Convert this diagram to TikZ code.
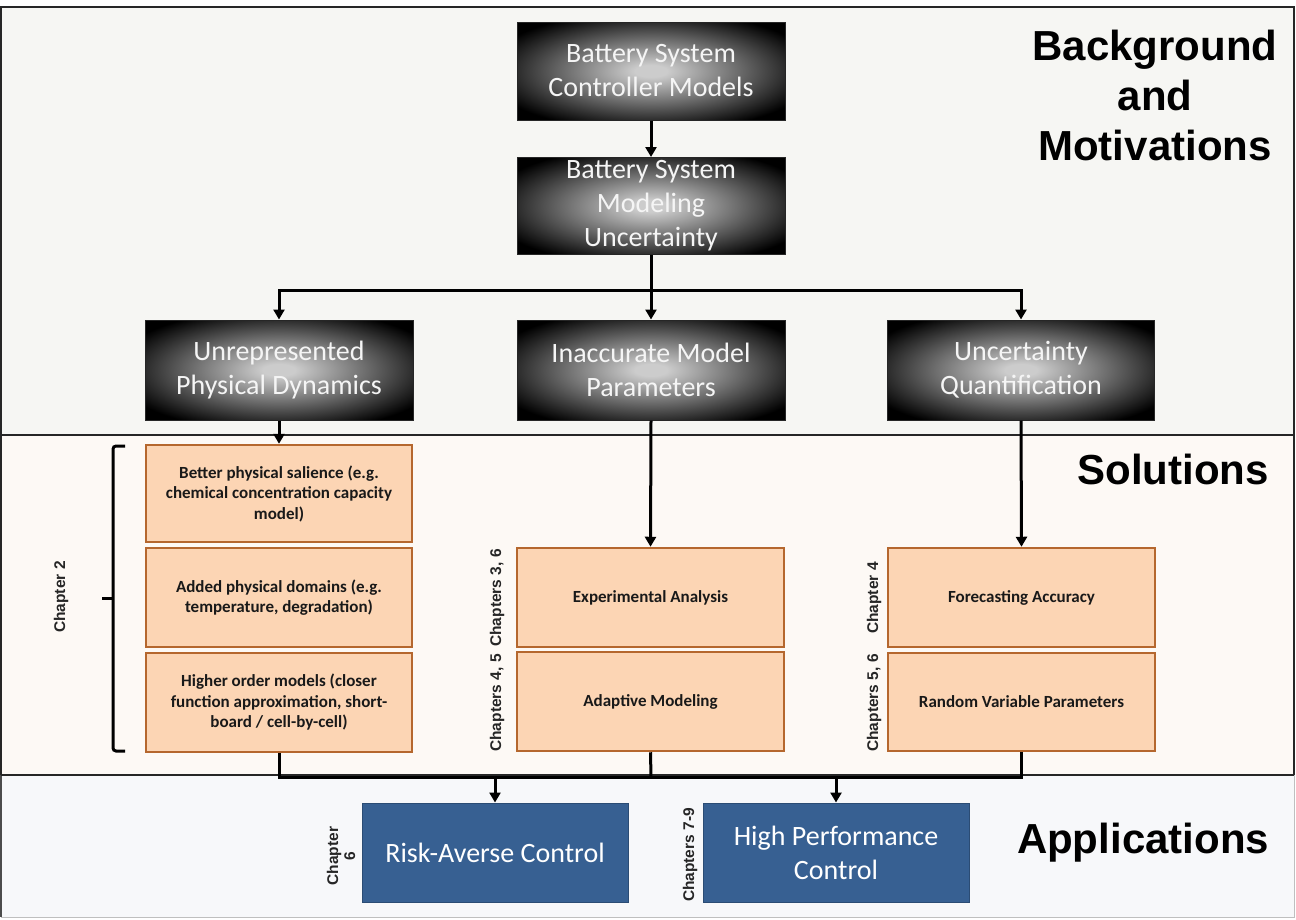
\documentclass[tikz,border=0pt]{standalone}
\usepackage{fontspec}
\setmainfont{Carlito}
\newfontfamily\arialf{Liberation Sans}
\usetikzlibrary{arrows.meta}
\definecolor{shc}{HTML}{CCCCCC}
\definecolor{shm}{HTML}{6E6E6E}
\definecolor{bgtop}{HTML}{F6F6F3}
\definecolor{bgsol}{HTML}{FDF9F5}
\definecolor{bgapp}{HTML}{F7F8FA}
\definecolor{orgfill}{HTML}{FCD5B4}
\definecolor{orgline}{HTML}{B5672E}
\definecolor{blufill}{HTML}{376092}
\definecolor{bluline}{HTML}{2B4C74}
\pgfdeclareradialshading{blkshade}{\pgfpoint{0bp}{0bp}}{color(0bp)=(shc); color(3bp)=(shc); color(16bp)=(shm); color(31bp)=(black); color(50bp)=(black)}
\tikzset{
  blk/.style={draw=black!85, line width=1pt, shading=blkshade, text=white!96!black, minimum width=268pt, minimum height=98pt, inner sep=0pt, align=center, font=\fontsize{28}{34}\selectfont},
  orng/.style={draw=orgline, line width=2.5pt, fill=orgfill, minimum width=266pt, minimum height=99pt, inner sep=0pt, align=center, text=black!90, font=\bfseries\fontsize{17}{20.5}\selectfont},
  blu/.style={draw=bluline, line width=1pt, fill=blufill, text=white, minimum width=266pt, minimum height=99pt, inner sep=0pt, align=center, font=\fontsize{28}{34}\selectfont},
  chap/.style={rotate=90, inner sep=0pt, align=center, text=black!85, font=\arialf\bfseries\fontsize{15.5}{17}\selectfont},
  ttl/.style={inner sep=0pt, align=center, font=\arialf\bfseries\fontsize{42}{50}\selectfont},
  arr/.style={line width=3pt, -{Triangle[width=11pt,length=10pt]}},
  conn/.style={line width=3pt},
  brc/.style={line width=3pt, rounded corners=3pt}
}
\begin{document}
\begin{tikzpicture}[x=1pt,y=-1pt]
\useasboundingbox (0,0) rectangle (1296,919);
% bands
\fill[bgtop] (1,7) rectangle (1294,435);
\fill[bgsol] (1,435) rectangle (1294,775);
\fill[bgapp] (1,775) rectangle (1294,917);
\draw[black!25, line width=1pt] (1,917) -- (1294,917) -- (1294,775);
\draw[black!70, line width=1.5pt] (1,775) -- (1,917);
\draw[black!85, line width=2pt] (1,775) -- (1,7) -- (1294,7) -- (1294,775);
\draw[black!85, line width=2pt] (1,435) -- (1294,435);
\draw[black!85, line width=2pt] (1,775) -- (1294,775);
% titles
\node[ttl] (tbg) at (1155,95) {Background\\and\\Motivations};
\node[ttl, anchor=base] (tsol) at (1173,484) {Solutions};
\node[ttl, anchor=base] (tapp) at (1143,853) {Applications};
% black boxes
\node[blk] (n1) at (651,71) {Battery System\\Controller Models};
\node[blk, minimum height=97pt] (n2) at (651,206) {Battery System\\Modeling\\Uncertainty};
\node[blk, minimum height=100pt] (n3) at (279,370) {Unrepresented\\Physical Dynamics};
\node[blk, minimum height=100pt] (n4) at (651,370) {Inaccurate Model\\Parameters};
\node[blk, minimum height=100pt, minimum width=267pt] (n5) at (1021,370) {Uncertainty\\Quantification};
% orange boxes
\node[orng, minimum height=97pt] (o1) at (279,493.5) {Better physical salience (e.g.\\chemical concentration capacity\\model)};
\node[orng] (o2) at (279,597.5) {Added physical domains (e.g.\\temperature, degradation)};
\node[orng] (o3) at (279,702.5) {Higher order models (closer\\function approximation, short-\\board / cell-by-cell)};
\node[orng, minimum width=267pt] (m1) at (650.5,597.5) {Experimental Analysis};
\node[orng, minimum width=267pt] (m2) at (650.5,701.5) {Adaptive Modeling};
\node[orng, minimum width=267pt] (r1) at (1021.5,597.5) {Forecasting Accuracy};
\node[orng, minimum width=267pt, minimum height=98pt] (r2) at (1021.5,702) {Random Variable Parameters};
% blue boxes
\node[blu] (b1) at (495,852.5) {Risk-Averse Control};
\node[blu] (b2) at (836,852.5) {High Performance\\Control};
% chapter labels
\node[chap] (c2) at (61,597) {Chapter 2};
\node[chap] (c36) at (497,598) {Chapters 3, 6};
\node[chap] (c45) at (497,703) {Chapters 4, 5};
\node[chap] (c4) at (874,598) {Chapter 4};
\node[chap] (c56) at (874,703) {Chapters 5, 6};
\node[chap] (c6) at (341,856) {Chapter\\6};
\node[chap] (c79) at (690,855) {Chapters 7-9};
% brace
\draw[brc] (125,446) -- (113,446) -- (113,751) -- (125,751);
\draw[line width=3pt] (102,598) -- (113,598);
% connectors top
\coordinate (busT) at (651,290);
\draw[arr] (n1.south) -- (n2.north);
\draw[arr] (n2.south) -- (n4.north);
\draw[arr] (busT) -| (n3.north);
\draw[arr] (busT) -| (n5.north);
\draw[arr] (n3.south) -- (o1.north);
\draw[arr] (n4.south) -- (m1.north);
\draw[arr] (n5.south) -- (r1.north);
% connectors bottom
\coordinate (busB) at (651,777);
\draw[conn] (o3.south) |- (busB);
\draw[conn] (r2.south) |- (busB);
\draw[conn] (m2.south) -- (busB);
\draw[arr] (b1.north |- busB) -- (b1.north);
\draw[arr] (b2.north |- busB) -- (b2.north);
\end{tikzpicture}
\end{document}
